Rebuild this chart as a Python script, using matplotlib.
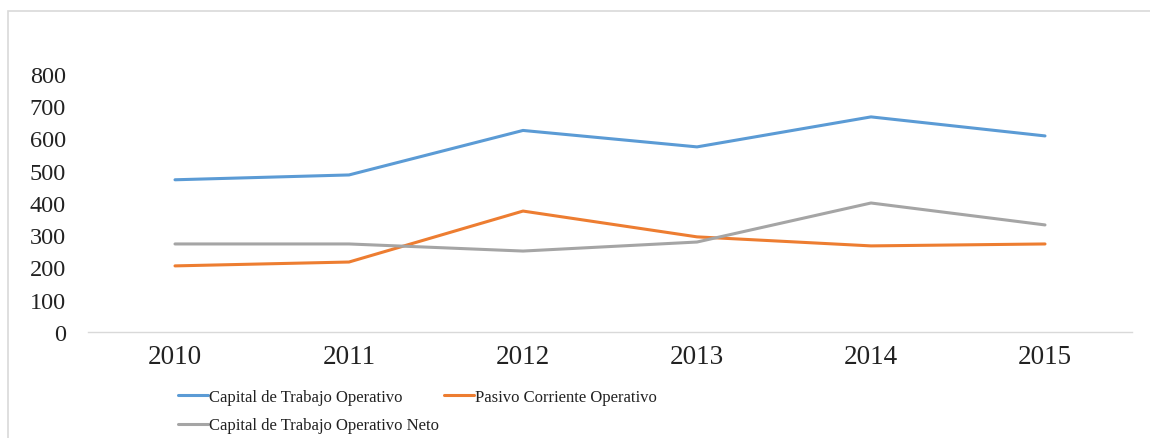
import matplotlib
matplotlib.use("Agg")
import matplotlib.pyplot as plt
from matplotlib.patches import Rectangle

years = ["2010", "2011", "2012", "2013", "2014", "2015"]
capital_trabajo = [472, 487, 625, 574, 667, 608]
pasivo_corriente = [205, 217, 375, 295, 267, 273]
capital_neto = [273, 273, 251, 279, 400, 332]
y_ticks = [0, 100, 200, 300, 400, 500, 600, 700, 800]

labels = ["Capital de Trabajo Operativo", "Pasivo Corriente Operativo",
          "Capital de Trabajo Operativo Neto"]
colors = ["#5B9BD5", "#ED7D31", "#A5A5A5"]

plt.rcParams['font.family'] = ['Liberation Serif', 'DejaVu Serif']

W, H = 1150, 439
fig = plt.figure(figsize=(W / 100, H / 100), dpi=100)
fig.patch.set_facecolor("white")

# outer chart border
fig.add_artist(Rectangle((8 / W, -0.05), 1.2, 1 - 12 / H + 0.05,
                         transform=fig.transFigure, fill=False,
                         edgecolor="#D9D9D9", linewidth=1.2))

left, right = 88 / W, 1132 / W
bottom, top = 1 - 333 / H, 1 - 75 / H
ax = fig.add_axes([left, bottom, right - left, top - bottom])

x = list(range(len(years)))
lines = []
for vals, c, lab in zip([capital_trabajo, pasivo_corriente, capital_neto], colors, labels):
    ln, = ax.plot(x, vals, color=c, linewidth=2.2, label=lab, solid_capstyle="round")
    lines.append(ln)

ax.set_xlim(-0.5, len(years) - 0.5)
ax.set_ylim(0, 800)
ax.set_yticks(y_ticks)
ax.set_yticklabels([str(v) for v in y_ticks], fontsize=17.5, color="#222222")
ax.set_xticks(x)
ax.set_xticklabels(years, fontsize=19.5, color="#222222")
ax.tick_params(axis="y", length=0, pad=16)
ax.tick_params(axis="x", length=0, pad=9)
for s in ["top", "right", "left"]:
    ax.spines[s].set_visible(False)
ax.spines["bottom"].set_color("#D9D9D9")
ax.spines["bottom"].set_linewidth(1.0)
ax.spines["bottom"].set_clip_on(False)

# column-wise fill: col1 = blue, gray ; col2 = orange
order = [0, 2, 1]
leg = fig.legend(handles=[lines[i] for i in order], labels=[labels[i] for i in order],
                 ncol=2, loc="upper left", bbox_to_anchor=(178 / W, 1 - 390 / H),
                 frameon=False, fontsize=12, handlelength=1.8,
                 handletextpad=0.05, columnspacing=0.3, labelspacing=0.75,
                 borderpad=0, borderaxespad=0)
for t in leg.get_texts():
    t.set_color("#222222")

fig.savefig("out.png", dpi=100, facecolor="white")
